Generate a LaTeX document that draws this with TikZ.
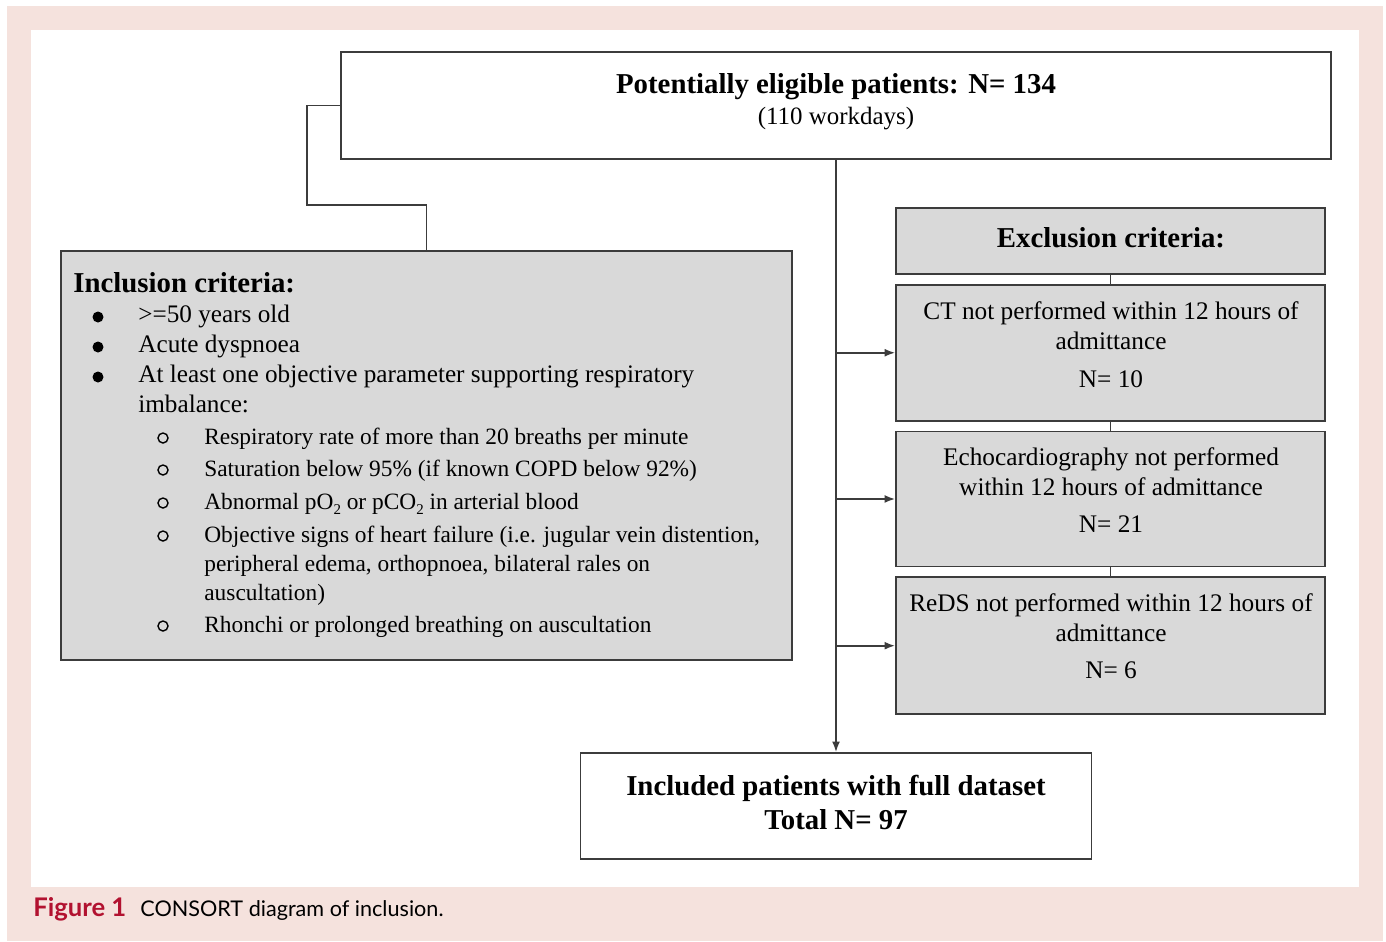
\documentclass[tikz,border=0pt]{standalone}
\usepackage{fontspec}
\setmainfont{Liberation Serif}
\newfontfamily\capfont{Lato}
\usepackage{xcolor}
\usetikzlibrary{positioning,arrows.meta}

\definecolor{panelpink}{RGB}{245,226,221}
\definecolor{boxgray}{RGB}{217,217,217}
\definecolor{linegray}{RGB}{60,60,60}
\definecolor{figred}{RGB}{178,18,48}

\newcommand{\lowsub}[1]{\raisebox{-0.5ex}{\fontsize{8.5pt}{9pt}\selectfont #1}}

\tikzset{
  box/.style={draw=linegray, line width=1pt, inner sep=0pt, fill=white},
  graybox/.style={box, fill=boxgray},
  link/.style={draw=linegray, line width=1pt},
  arr/.style={link, -{Latex[length=6pt,width=4.5pt]}},
  headtxt/.style={font=\fontsize{16.4pt}{19pt}\selectfont\bfseries, inner sep=0pt, anchor=base},
  boxtxt/.style={font=\fontsize{14.4pt}{17pt}\selectfont, inner sep=0pt, anchor=base},
  itemtxt/.style={font=\fontsize{14.35pt}{17pt}\selectfont, inner sep=0pt, anchor=base west},
  subtxt/.style={font=\fontsize{13.3pt}{16pt}\selectfont, inner sep=0pt, anchor=base west},
}

\begin{document}
\begin{tikzpicture}[x=0.02cm, y=-0.02cm]
			\useasboundingbox (0,0) rectangle (1386,941);
			\fill[panelpink] (7,6) rectangle (1383,941);
			\fill[white] (31,30) rectangle (1359,887);

			% boxes
			\node[box, minimum width=19.8cm, minimum height=2.14cm] (elig) at (836,105.5) {};
			\node[graybox, minimum width=14.62cm, minimum height=8.18cm] (incl) at (426.5,455.5) {};
			\node[graybox, minimum width=8.58cm, minimum height=1.32cm] (excl) at (1110.5,241) {};
			\node[graybox, minimum width=8.58cm, minimum height=2.72cm, below=0.18cm of excl] (ct) {};
			\node[graybox, minimum width=8.58cm, minimum height=2.70cm, below=0.18cm of ct] (echo) {};
			\node[graybox, minimum width=8.58cm, minimum height=2.74cm, below=0.18cm of echo] (reds) {};
			\node[box, minimum width=10.22cm, minimum height=2.12cm] (final) at (836,806) {};

			% top box
			\node[headtxt] (eligtitle) at (836,93) {Potentially eligible patients: N= 134};
			\node[boxtxt, font=\fontsize{14.2pt}{17pt}\selectfont] (eligdays) at (836,124) {(110 workdays)};

			% inclusion
			\node[headtxt, anchor=base west] (incltitle) at (73,292) {Inclusion criteria:};
				\fill[black] (98,317) circle[radius=5.5];
				\node[itemtxt] (inclage) at (138,322) {>=50 years old};
				\fill[black] (98,347) circle[radius=5.5];
				\node[itemtxt] (incldysp) at (138,352) {Acute dyspnoea};
				\fill[black] (98,377) circle[radius=5.5];
				\node[itemtxt] (inclobj) at (138,382) {At least one objective parameter supporting respiratory};
				\node[itemtxt] (inclobjb) at (138,412) {imbalance:};

					\draw[line width=0.8pt] (163,438) circle[radius=5];
					\node[subtxt] (subresp) at (204,444) {Respiratory rate of more than 20 breaths per minute};
					\draw[line width=0.8pt] (163,470) circle[radius=5];
					\node[subtxt] (subsat) at (204,476) {Saturation below 95\% (if known COPD below 92\%)};
					\draw[line width=0.8pt] (163,503) circle[radius=5];
					\node[subtxt] (subgas) at (204,509) {Abnormal pO\lowsub{2} or pCO\lowsub{2} in arterial blood};
					\draw[line width=0.8pt] (163,536) circle[radius=5];
					\node[subtxt] (subhf) at (204,542) {Objective signs of heart failure (i.e. jugular vein distention,};
					\node[subtxt] (subhfb) at (204,571) {peripheral edema, orthopnoea, bilateral rales on};
					\node[subtxt] (subhfc) at (204,600) {auscultation)};
					\draw[line width=0.8pt] (163,626) circle[radius=5];
					\node[subtxt] (subrho) at (204,632) {Rhonchi or prolonged breathing on auscultation};

			% exclusion
			\node[headtxt] (excltitle) at (1111,247) {Exclusion criteria:};
				\node[boxtxt] (ctline) at (1111,319) {CT not performed within 12 hours of};
				\node[boxtxt] (ctlineb) at (1111,349) {admittance};
				\node[boxtxt] (ctn) at (1111,387) {N= 10};
				\node[boxtxt] (echoline) at (1111,465) {Echocardiography not performed};
				\node[boxtxt] (echolineb) at (1111,495) {within 12 hours of admittance};
				\node[boxtxt] (echon) at (1111,532) {N= 21};
				\node[boxtxt] (redsline) at (1111,611) {ReDS not performed within 12 hours of};
				\node[boxtxt] (redslineb) at (1111,641) {admittance};
				\node[boxtxt] (redsn) at (1111,678) {N= 6};

			% result
			\node[headtxt] (finaltitle) at (836,795) {Included patients with full dataset};
			\node[headtxt] (finaltotal) at (836,829) {Total N= 97};

			% connectors
			\coordinate (inclbend) at (307,205);
			\draw[link] (elig.west) -| (inclbend) -| (incl.north);
			\draw[arr] (elig.south) -- (final.north);
			\draw[arr] (elig.south |- ct.west) -- (ct.west);
			\draw[arr] (elig.south |- echo.west) -- (echo.west);
			\draw[arr] (elig.south |- reds.west) -- (reds.west);
			\draw[link] (excl.south) -- (ct.north);
			\draw[link] (ct.south) -- (echo.north);
			\draw[link] (echo.south) -- (reds.north);

			% caption
			\node[anchor=base west, inner sep=0pt, font=\capfont\fontsize{12.3pt}{14pt}\selectfont] (figcap) at (33,916)
				{\textcolor{figred}{\bfseries\fontsize{14.6pt}{15pt}\selectfont Figure 1}\hspace{8pt}CONSORT diagram of inclusion.};
\end{tikzpicture}
\end{document}
